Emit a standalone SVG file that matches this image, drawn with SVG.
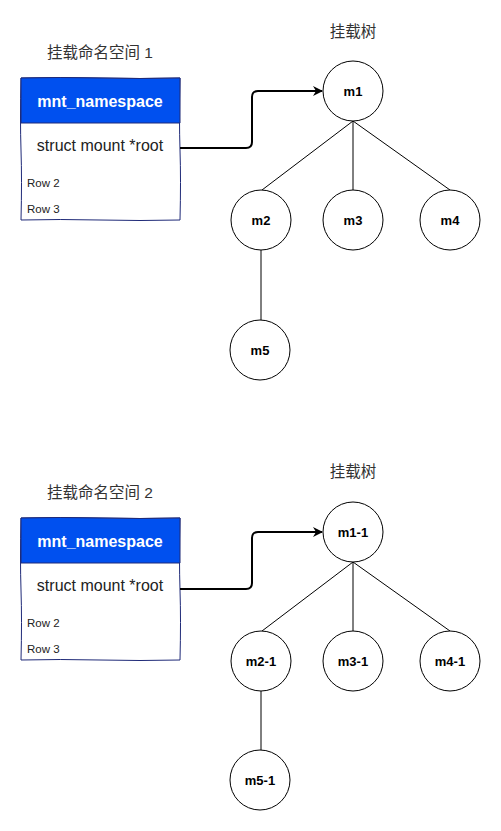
<svg xmlns="http://www.w3.org/2000/svg" width="501" height="831" viewBox="0 0 501 831">
<style>
.t{font-family:"Liberation Sans","Noto Sans CJK SC",Arial,sans-serif;fill:#000}
.title{font-size:15.5px;fill:#333}
.hdr{font-size:16px;font-weight:bold;fill:#fff}
.fld{font-size:16px;fill:#222}
.row{font-size:11.5px;fill:#222}
.nd{fill:#fff;stroke:#000;stroke-width:1}
.lbl{font-size:13px;font-weight:bold}
.edge{stroke:#000;stroke-width:1;fill:none}
.ptr{stroke:#000;stroke-width:2;fill:none}
.box{fill:#fff;stroke:#1f2a78;stroke-width:1}
.head{fill:#0050ef;stroke:#1f2a78;stroke-width:1}
</style>
<defs>
<marker id="arr" viewBox="0 0 10 10" refX="9" refY="5" markerWidth="5" markerHeight="5" orient="auto" markerUnits="strokeWidth">
<path d="M0,0 L10,5 L0,10 L3,5 Z" fill="#000"/>
</marker>
</defs>

<g id="ns1">
<text class="t title" x="100" y="58" text-anchor="middle">挂载命名空间 1</text>
<path class="box" d="M21,78 Q60,77 100,78 T180,78 Q179,120 180,150 T180,220 Q140,221 100,220 T21,220 Q22,180 21,150 T21,78 Z"/>
<path class="head" d="M21,78 Q60,77 100,78 T180,78 L180,123 L21,123 Z"/>
<text class="t hdr" x="100" y="107" text-anchor="middle">mnt_namespace</text>
<text class="t fld" x="100" y="151" text-anchor="middle">struct mount *root</text>
<text class="t row" x="27" y="187">Row 2</text>
<text class="t row" x="27" y="213">Row 3</text>
</g>
<text class="t title" x="353" y="37" text-anchor="middle">挂载树</text>

<g id="ns2">
<text class="t title" x="100" y="498" text-anchor="middle">挂载命名空间 2</text>
<path class="box" d="M21,518 Q60,517 100,518 T180,518 Q179,560 180,590 T180,660 Q140,661 100,660 T21,660 Q22,620 21,590 T21,518 Z"/>
<path class="head" d="M21,518 Q60,517 100,518 T180,518 L180,563 L21,563 Z"/>
<text class="t hdr" x="100" y="547" text-anchor="middle">mnt_namespace</text>
<text class="t fld" x="100" y="591" text-anchor="middle">struct mount *root</text>
<text class="t row" x="27" y="627">Row 2</text>
<text class="t row" x="27" y="653">Row 3</text>
</g>
<text class="t title" x="353" y="477" text-anchor="middle">挂载树</text>

<g id="connectors">
<path class="ptr" d="M180,148 L246,148 Q252,148 252,142 L252,97 Q252,91 258,91 L322,91" marker-end="url(#arr)"/>
<path class="edge" d="M353,121 L262,190"/>
<path class="edge" d="M353,121 L353,190"/>
<path class="edge" d="M353,121 L450,190"/>
<path class="edge" d="M261,250 L261,320"/>
<path class="ptr" d="M180,589 L246,589 Q252,589 252,583 L252,538 Q252,532 258,532 L322,532" marker-end="url(#arr)"/>
<path class="edge" d="M353,562 L262,631"/>
<path class="edge" d="M353,562 L353,631"/>
<path class="edge" d="M353,562 L450,631"/>
<path class="edge" d="M261,691 L261,750"/>
</g>

<g id="m1"><circle class="nd" cx="353" cy="91" r="30"/><text class="t lbl" x="353" y="96" text-anchor="middle">m1</text></g>
<g id="m2"><circle class="nd" cx="261" cy="220" r="30"/><text class="t lbl" x="261" y="225" text-anchor="middle">m2</text></g>
<g id="m3"><circle class="nd" cx="353" cy="220" r="30"/><text class="t lbl" x="353" y="225" text-anchor="middle">m3</text></g>
<g id="m4"><circle class="nd" cx="450" cy="220" r="30"/><text class="t lbl" x="450" y="225" text-anchor="middle">m4</text></g>
<g id="m5"><circle class="nd" cx="260" cy="350" r="30"/><text class="t lbl" x="260" y="355" text-anchor="middle">m5</text></g>

<g id="m1-1"><circle class="nd" cx="353" cy="532" r="30"/><text class="t lbl" x="353" y="537" text-anchor="middle">m1-1</text></g>
<g id="m2-1"><circle class="nd" cx="261" cy="661" r="30"/><text class="t lbl" x="261" y="666" text-anchor="middle">m2-1</text></g>
<g id="m3-1"><circle class="nd" cx="353" cy="661" r="30"/><text class="t lbl" x="353" y="666" text-anchor="middle">m3-1</text></g>
<g id="m4-1"><circle class="nd" cx="450" cy="661" r="30"/><text class="t lbl" x="450" y="666" text-anchor="middle">m4-1</text></g>
<g id="m5-1"><circle class="nd" cx="260" cy="780" r="30"/><text class="t lbl" x="260" y="785" text-anchor="middle">m5-1</text></g>
</svg>
